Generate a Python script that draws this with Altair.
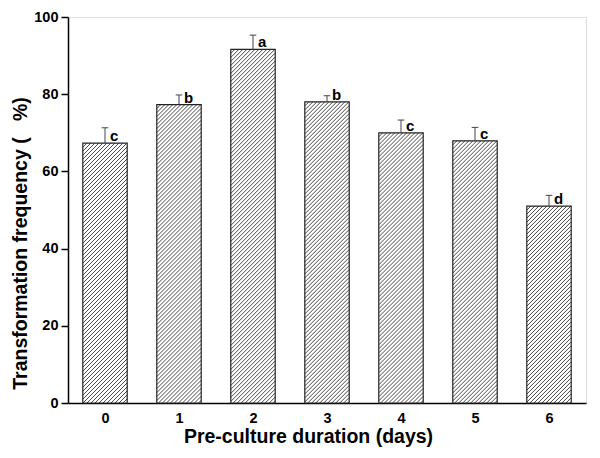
import altair as alt
import pandas as pd

days = [0, 1, 2, 3, 4, 5, 6]
freq = [67.3, 77.3, 91.6, 78.0, 70.0, 67.9, 51.0]
err = [4.0, 2.5, 3.7, 1.6, 3.3, 3.5, 2.8]
letters = ["c", "b", "a", "b", "c", "c", "d"]

W, H = 518, 386
HALF = 0.3
px_x = W / 7.0
px_y = H / 100.0
SPACING = 4.0

df = pd.DataFrame({"day": days, "freq": freq, "err": err, "letter": letters})
df["x0"] = df["day"] - HALF
df["x1"] = df["day"] + HALF
df["top"] = df["freq"] + df["err"]
df["cap0"] = df["day"] - 0.045
df["cap1"] = df["day"] + 0.045
df["zero"] = 0.0

# hatch lines derived from bar geometry
rows = []
for d, v in zip(days, freq):
    bw = 2 * HALF * px_x
    bh = v * px_y
    c = -bh
    while c < bw:
        s = max(0.0, c)
        e = min(bw, bh + c)
        if e > s:
            rows.append({
                "hx": d - HALF + s / px_x,
                "hx2": d - HALF + e / px_x,
                "hy": (s - c) / px_y,
                "hy2": (e - c) / px_y,
            })
        c += SPACING
hatch = pd.DataFrame(rows)

FONT = "Liberation Sans"
xs = alt.Scale(domain=[-0.5, 6.5], nice=False, zero=False)
ys = alt.Scale(domain=[0, 100], nice=False)

base = alt.Chart(df)

fillbars = base.mark_rect(fill="white", stroke=None).encode(
    x=alt.X("x0:Q", scale=xs, axis=alt.Axis(
        values=days, format="d", ticks=False, title="Pre-culture duration (days)",
        labelFont=FONT, labelFontSize=14.5, labelFontWeight="bold", labelColor="black",
        labelPadding=8, titleFont=FONT, titleFontSize=19.5, titleFontWeight="bold",
        titleColor="black", titlePadding=3, titleX=240, domainColor="black",
        domainWidth=1.5, grid=False)),
    x2="x1:Q",
    y=alt.Y("zero:Q", scale=ys, axis=alt.Axis(
        values=[0, 20, 40, 60, 80, 100],
        title="Transformation frequency (\u00a0\u00a0\u00a0%)",
        tickSize=7, tickColor="black", tickWidth=1.5,
        labelFont=FONT, labelFontSize=14.5, labelFontWeight="bold", labelColor="black",
        labelPadding=3, titleFont=FONT, titleFontSize=19.5, titleFontWeight="bold",
        titleColor="black", titlePadding=3, titleY=226, domainColor="black",
        domainWidth=1.5, grid=False)),
    y2="freq:Q",
)

hatchlines = alt.Chart(hatch).mark_rule(color="#333333", strokeWidth=0.9).encode(
    x=alt.X("hx:Q", scale=xs), x2="hx2:Q",
    y=alt.Y("hy:Q", scale=ys), y2="hy2:Q",
)

outline = base.mark_rect(fillOpacity=0, stroke="#222222", strokeWidth=1.2).encode(
    x=alt.X("x0:Q", scale=xs), x2="x1:Q",
    y=alt.Y("zero:Q", scale=ys), y2="freq:Q",
)

errline = base.mark_rule(color="#444444", strokeWidth=1).encode(
    x=alt.X("day:Q", scale=xs),
    y=alt.Y("freq:Q", scale=ys), y2="top:Q",
)

errcap = base.mark_rule(color="#444444", strokeWidth=1).encode(
    x=alt.X("cap0:Q", scale=xs), x2="cap1:Q",
    y=alt.Y("top:Q", scale=ys),
)

labels = base.mark_text(align="left", baseline="alphabetic", dx=5, dy=-2,
                        font=FONT, fontSize=15, fontWeight="bold", color="black").encode(
    x=alt.X("day:Q", scale=xs),
    y=alt.Y("freq:Q", scale=ys),
    text="letter:N",
)

chart = alt.layer(fillbars, hatchlines, outline, errline, errcap, labels).properties(
    width=W, height=H,
    autosize=alt.AutoSizeParams(type="none"),
    padding={"left": 60, "top": 9, "right": 6, "bottom": 47},
).configure_view(stroke="black", strokeWidth=1.5).configure(background="white")

chart.save("out.html", embed_options={"renderer": "svg", "actions": False})
